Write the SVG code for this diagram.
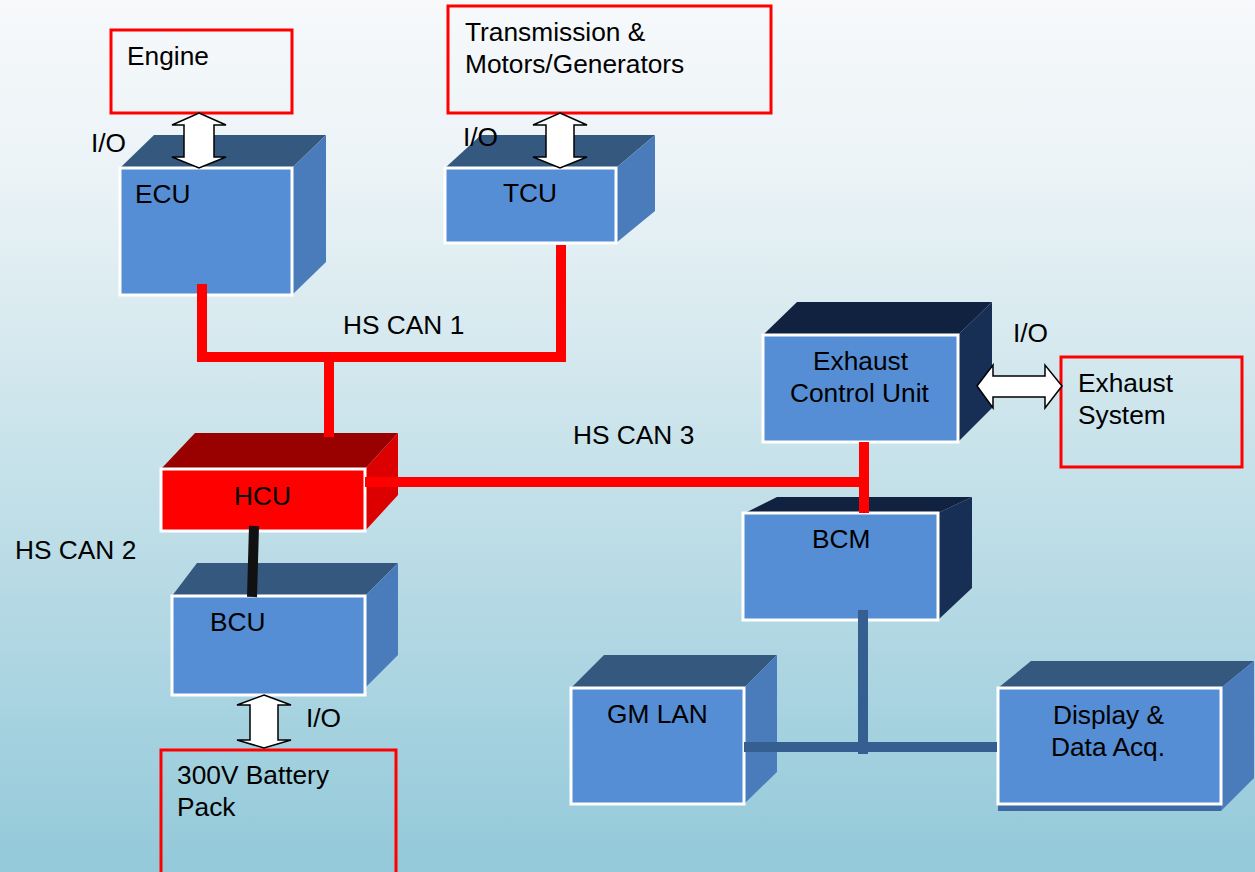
<svg xmlns="http://www.w3.org/2000/svg" width="1255" height="872" viewBox="0 0 1255 872">
<defs>
<linearGradient id="bg" x1="0" y1="0" x2="0" y2="1">
<stop offset="0" stop-color="#f7f9fb"/>
<stop offset="0.2" stop-color="#ebf3f6"/>
<stop offset="1" stop-color="#93c9d9"/>
</linearGradient>
<style>
text{font-family:"Liberation Sans",Arial,sans-serif;font-size:26.3px;fill:#000}
.front{fill:#558ed5;stroke:#ffffff;stroke-width:3}
.top{fill:#35587f}
.side{fill:#4a7cbc}
.dtop{fill:#112140}
.dside{fill:#172f55}
.ext{fill:none;stroke:#ff0000;stroke-width:3}
.red{stroke:#ff0000;stroke-width:10;fill:none}
.blue{stroke:#365f91;stroke-width:10;fill:none}
.blk{stroke:#111111;stroke-width:10;fill:none}
.arr{fill:#ffffff;stroke:#000000;stroke-width:1.5;stroke-linejoin:miter}
</style>
</defs>
<rect x="0" y="0" width="1255" height="872" fill="url(#bg)"/>

<g id="engine">
<rect class="ext" x="111" y="30" width="181" height="83"/>
<text x="127" y="65">Engine</text>
</g>

<g id="transmission">
<rect class="ext" x="448" y="6" width="323" height="107"/>
<text x="465" y="41">Transmission &amp;</text>
<text x="465" y="73">Motors/Generators</text>
</g>

<g id="ecu">
<polygon class="top" points="120,168 154,135 326,135 292,168"/>
<polygon class="side" points="292,168 326,135 326,262 292,295"/>
<rect class="front" x="120" y="168" width="172" height="127"/>
<text x="135" y="203">ECU</text>
</g>

<g id="tcu">
<polygon class="top" points="445,168 481,135 655,135 616,168"/>
<polygon class="side" points="616,168 655,135 655,211 616,243"/>
<rect class="front" x="445" y="168" width="171" height="75"/>
<text x="503" y="202">TCU</text>
</g>

<g id="hcu">
<polygon fill="#990000" points="161,469 195,433 398,433 365,469"/>
<polygon fill="#dd0000" points="365,469 398,433 398,495 365,531"/>
<rect x="161" y="469" width="204" height="62" fill="#ff0000" stroke="#ffffff" stroke-width="3"/>
<text x="234" y="505">HCU</text>
</g>

<g id="bcu">
<polygon class="top" points="172,596 197,563 398,563 365,596"/>
<polygon class="side" points="365,596 398,563 398,655 365,688"/>
<rect class="front" x="172" y="596" width="193" height="99"/>
<text x="210" y="631">BCU</text>
</g>

<g id="battery">
<rect class="ext" x="161" y="750" width="235" height="130"/>
<text x="177" y="784">300V Battery</text>
<text x="177" y="816">Pack</text>
</g>

<g id="exhaust-cu">
<polygon class="dtop" points="763,335 797,302 992,302 958,335"/>
<polygon class="dside" points="958,335 992,302 992,408 958,442"/>
<rect class="front" x="763" y="335" width="195" height="107"/>
<text x="813" y="370">Exhaust</text>
<text x="790" y="402">Control Unit</text>
</g>

<g id="exhaust-system">
<rect class="ext" x="1061" y="357" width="181" height="110"/>
<text x="1078" y="392">Exhaust</text>
<text x="1078" y="424">System</text>
</g>

<g id="bcm">
<polygon class="dtop" points="745,513 777,497 972,497 938,513"/>
<polygon class="dside" points="938,513 972,497 972,588 938,620"/>
<rect class="front" x="743" y="513" width="195" height="107"/>
<text x="812" y="548">BCM</text>
</g>

<g id="gmlan">
<polygon class="top" points="571,688 604,655 777,655 744,688"/>
<polygon class="side" points="744,688 777,655 777,772 744,804"/>
<rect class="front" x="571" y="688" width="173" height="116"/>
<text x="607" y="723">GM LAN</text>
</g>

<g id="display">
<rect x="998" y="803" width="223" height="8" fill="#3b6aa5"/>
<polygon class="top" points="998,688 1031,661 1254,661 1221,688"/>
<polygon class="side" points="1221,688 1254,661 1254,778 1221,811"/>
<rect class="front" x="998" y="688" width="223" height="116"/>
<text x="1053" y="724">Display &amp;</text>
<text x="1051" y="756">Data Acq.</text>
</g>

<g id="connectors">
<polyline class="red" points="202,284 202,357 561,357 561,245"/>
<line class="red" x1="329" y1="357" x2="329" y2="437"/>
<line class="red" x1="365" y1="482" x2="869" y2="482"/>
<line class="red" x1="864" y1="442" x2="864" y2="513"/>
<line class="blk" x1="254" y1="526" x2="252" y2="597"/>
<line class="blue" x1="863" y1="610" x2="863" y2="754"/>
<line class="blue" x1="744" y1="747" x2="997" y2="747"/>
<path class="arr" d="M199,113 L226,125 L214,125 L214,157 L226,157 L199,168 L172,157 L184,157 L184,125 L172,125 Z"/>
<path class="arr" d="M560,113 L587,125 L574,125 L574,157 L587,157 L560,168 L533,157 L546,157 L546,125 L533,125 Z"/>
<path class="arr" d="M264,695 L291,705 L278,705 L278,740 L291,740 L264,748 L237,740 L250,740 L250,705 L237,705 Z"/>
<path class="arr" d="M977,386 L993,365 L993,376 L1045,376 L1045,365 L1062,386 L1045,408 L1045,397 L993,397 L993,408 Z"/>
</g>

<g id="labels">
<text x="91" y="152">I/O</text>
<text x="463" y="146">I/O</text>
<text x="306" y="727">I/O</text>
<text x="1013" y="342">I/O</text>
<text x="343" y="334">HS CAN 1</text>
<text x="15" y="559">HS CAN 2</text>
<text x="573" y="444">HS CAN 3</text>
</g>
</svg>
